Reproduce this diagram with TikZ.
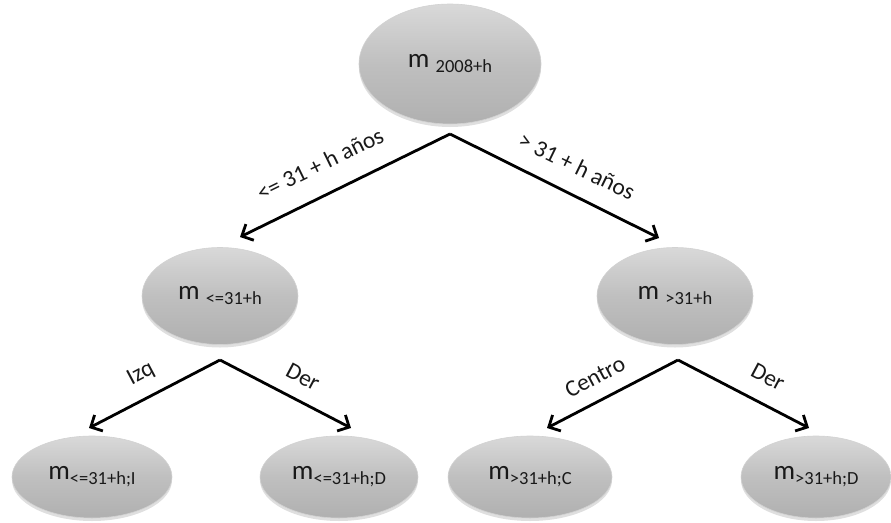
\documentclass[tikz,border=0pt]{standalone}
\usepackage{fontspec}
\setmainfont{Carlito}
\usetikzlibrary{arrows.meta,shapes.geometric,shadows}
\begin{document}
\begin{tikzpicture}[x=1pt,y=1pt,
  bubble/.style={ellipse,inner sep=0pt,draw=gray!35,line width=0.6pt,
    top color=gray!30,bottom color=gray!62,middle color=gray!50,
    drop shadow={opacity=0.25,shadow xshift=0pt,shadow yshift=-3pt},
    text=black!90,font=\fontsize{27}{30}\selectfont},
  arr/.style={line width=2.8pt,-{Straight Barb[length=9pt,width=18pt,line width=2.8pt]}},
  lbl/.style={font=\fontsize{23.5}{26}\selectfont,text=black!90,inner sep=0pt}]
\useasboundingbox (0,0) rectangle (891,-522);
\newcommand{\sbs}[1]{{\fontsize{18.5}{20}\selectfont\raisebox{-5pt}{#1}}}
% nodes
\node[bubble,minimum width=182pt,minimum height=120pt] (n0) at (450,-64) {m \sbs{2008+h}};
\node[bubble,minimum width=156pt,minimum height=97pt] (nL) at (220,-296) {m \sbs{<=31+h}};
\node[bubble,minimum width=156pt,minimum height=97pt] (nR) at (675,-296) {m \sbs{>31+h}};
\node[bubble,minimum width=160pt,minimum height=82pt] (nLL) at (92,-477) {m\sbs{<=31+h;I}};
\node[bubble,minimum width=158pt,minimum height=82pt] (nLR) at (339,-477) {m\sbs{<=31+h;D}};
\node[bubble,minimum width=164pt,minimum height=82pt] (nRL) at (530,-477) {m\sbs{>31+h;C}};
\node[bubble,minimum width=150pt,minimum height=82pt] (nRR) at (816,-477) {m\sbs{>31+h;D}};
% connector end points
\coordinate (s0) at (450,-134);
\coordinate (e0L) at (240,-237);
\coordinate (e0R) at (659,-238);
\coordinate (sL) at (220,-360);
\coordinate (eLL) at (89,-428);
\coordinate (eLR) at (351,-428);
\coordinate (sR) at (678,-360);
\coordinate (eRL) at (547,-428);
\coordinate (eRR) at (809,-428);
\draw[arr] (s0) -- (e0L);
\draw[arr] (s0) -- (e0R);
\draw[arr] (sL) -- (eLL);
\draw[arr] (sL) -- (eLR);
\draw[arr] (sR) -- (eRL);
\draw[arr] (sR) -- (eRR);
% labels
\node[lbl,rotate=26] (l1) at (320,-164) {<= 31 + h años};
\node[lbl,rotate=-26] (l2) at (577,-166) {> 31 + h años};
\node[lbl,rotate=28] (l3) at (141,-374) {Izq};
\node[lbl,rotate=-28] (l4) at (303,-377) {Der};
\node[lbl,rotate=28] (l5) at (595,-377) {Centro};
\node[lbl,rotate=-28] (l6) at (768,-377) {Der};
\end{tikzpicture}
\end{document}
